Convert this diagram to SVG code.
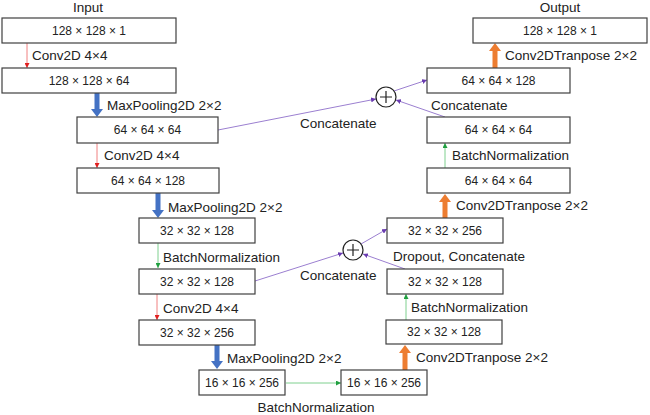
<svg xmlns="http://www.w3.org/2000/svg" width="650" height="415" viewBox="0 0 650 415">
<defs>
<style>
.box rect{fill:#fff;stroke:#404040;stroke-width:1.2}
.box text{font-family:"Liberation Sans",Arial,sans-serif;font-size:12px;fill:#222;text-anchor:middle}
.lbl{font-family:"Liberation Sans",Arial,sans-serif;font-size:13.5px;fill:#222}
.red{stroke:#f08080;stroke-width:1;fill:none}
.grn{stroke:#7fd08f;stroke-width:1;fill:none}
.pur{stroke:#9b7fd0;stroke-width:1;fill:none}
.blue{fill:#4472c4}
.orng{fill:#ed7d31}
</style>
<marker id="mr" viewBox="0 0 6 6" refX="6" refY="3" markerWidth="5" markerHeight="5" orient="auto" markerUnits="userSpaceOnUse"><path d="M0,0L6,3L0,6z" fill="#e02020"/></marker>
<marker id="mg" viewBox="0 0 6 6" refX="6" refY="3" markerWidth="5" markerHeight="5" orient="auto" markerUnits="userSpaceOnUse"><path d="M0,0L6,3L0,6z" fill="#20a040"/></marker>
<marker id="mp" viewBox="0 0 6 6" refX="6" refY="3" markerWidth="5" markerHeight="5" orient="auto" markerUnits="userSpaceOnUse"><path d="M0,0L6,3L0,6z" fill="#6a3cb0"/></marker>
</defs>
<rect width="650" height="415" fill="#fff"/>

<g id="connectors">
<line class="red" x1="27" y1="43" x2="27" y2="68" marker-end="url(#mr)"/>
<line class="red" x1="97" y1="143" x2="97" y2="168" marker-end="url(#mr)"/>
<line class="red" x1="157" y1="294" x2="157" y2="320" marker-end="url(#mr)"/>
<line class="grn" x1="158" y1="243" x2="158" y2="268" marker-end="url(#mg)"/>
<line class="grn" x1="286" y1="383" x2="341" y2="383" marker-end="url(#mg)"/>
<line class="grn" x1="406" y1="320" x2="406" y2="294" marker-end="url(#mg)"/>
<line class="grn" x1="445" y1="168" x2="445" y2="143" marker-end="url(#mg)"/>
<line class="pur" x1="218" y1="130" x2="376" y2="99" marker-end="url(#mp)"/>
<line class="pur" x1="445" y1="117" x2="396" y2="100" marker-end="url(#mp)"/>
<line class="pur" x1="394" y1="91" x2="427" y2="80" marker-end="url(#mp)"/>
<line class="pur" x1="255" y1="281" x2="343" y2="253" marker-end="url(#mp)"/>
<line class="pur" x1="405" y1="269" x2="363" y2="254" marker-end="url(#mp)"/>
<line class="pur" x1="361" y1="244" x2="387" y2="229" marker-end="url(#mp)"/>
<path class="blue" d="M94.5,93H99.5V109H103L97,117L91,109H94.5z"/>
<path class="blue" d="M155.5,193H160.5V210H164L158,218L152,210H155.5z"/>
<path class="blue" d="M214.5,345H219.5V361H223L217,369L211,361H214.5z"/>
<path class="orng" d="M402.5,370H407.5V353H411L405,345L399,353H402.5z"/>
<path class="orng" d="M442.5,218H447.5V202H451L445,194L439,202H442.5z"/>
<path class="orng" d="M492.5,68H497.5V51H501L495,43L489,51H492.5z"/>
</g>

<g id="plus1"><circle cx="386" cy="97" r="10" fill="#fff" stroke="#222" stroke-width="1.2"/><path d="M380,97H392M386,91V103" stroke="#222" stroke-width="1.2"/></g>
<g id="plus2"><circle cx="353" cy="250" r="10" fill="#fff" stroke="#222" stroke-width="1.2"/><path d="M347,250H359M353,244V256" stroke="#222" stroke-width="1.2"/></g>

<g id="b1" class="box"><rect x="2" y="18" width="174" height="25"/><text x="89" y="35">128 × 128 × 1</text></g>
<g id="b2" class="box"><rect x="2" y="68" width="174" height="25"/><text x="89" y="85">128 × 128 × 64</text></g>
<g id="b3" class="box"><rect x="77" y="117" width="141" height="26"/><text x="147.5" y="134">64 × 64 × 64</text></g>
<g id="b4" class="box"><rect x="77" y="168" width="142" height="25"/><text x="148" y="185">64 × 64 × 128</text></g>
<g id="b5" class="box"><rect x="139" y="218" width="116" height="25"/><text x="197" y="235">32 × 32 × 128</text></g>
<g id="b6" class="box"><rect x="139" y="269" width="116" height="25"/><text x="197" y="286">32 × 32 × 128</text></g>
<g id="b7" class="box"><rect x="139" y="320" width="116" height="25"/><text x="197" y="337">32 × 32 × 256</text></g>
<g id="b8" class="box"><rect x="199" y="370" width="86" height="25"/><text x="242" y="387">16 × 16 × 256</text></g>
<g id="b9" class="box"><rect x="341" y="370" width="86" height="25"/><text x="384" y="387">16 × 16 × 256</text></g>
<g id="b10" class="box"><rect x="386" y="320" width="116" height="24"/><text x="444" y="336">32 × 32 × 128</text></g>
<g id="b11" class="box"><rect x="387" y="269" width="116" height="25"/><text x="445" y="286">32 × 32 × 128</text></g>
<g id="b12" class="box"><rect x="387" y="218" width="116" height="25"/><text x="445" y="235">32 × 32 × 256</text></g>
<g id="b13" class="box"><rect x="427" y="168" width="143" height="25"/><text x="498.5" y="185">64 × 64 × 64</text></g>
<g id="b14" class="box"><rect x="427" y="117" width="143" height="26"/><text x="498.5" y="134">64 × 64 × 64</text></g>
<g id="b15" class="box"><rect x="427" y="68" width="143" height="25"/><text x="498.5" y="85">64 × 64 × 128</text></g>
<g id="b16" class="box"><rect x="473" y="18" width="174" height="25"/><text x="560" y="35">128 × 128 × 1</text></g>

<g id="labels">
<text class="lbl" x="88" y="12" text-anchor="middle">Input</text>
<text class="lbl" x="560" y="12" text-anchor="middle">Output</text>
<text class="lbl" x="32" y="60">Conv2D 4×4</text>
<text class="lbl" x="107" y="110">MaxPooling2D 2×2</text>
<text class="lbl" x="104" y="160">Conv2D 4×4</text>
<text class="lbl" x="168" y="212">MaxPooling2D 2×2</text>
<text class="lbl" x="163" y="262">BatchNormalization</text>
<text class="lbl" x="163" y="313">Conv2D 4×4</text>
<text class="lbl" x="227" y="363">MaxPooling2D 2×2</text>
<text class="lbl" x="316" y="412" text-anchor="middle">BatchNormalization</text>
<text class="lbl" x="416" y="362">Conv2DTranpose 2×2</text>
<text class="lbl" x="411" y="312">BatchNormalization</text>
<text class="lbl" x="393" y="261">Dropout, Concatenate</text>
<text class="lbl" x="300" y="280">Concatenate</text>
<text class="lbl" x="456" y="210">Conv2DTranpose 2×2</text>
<text class="lbl" x="452" y="160">BatchNormalization</text>
<text class="lbl" x="431" y="110">Concatenate</text>
<text class="lbl" x="300" y="128">Concatenate</text>
<text class="lbl" x="505" y="60">Conv2DTranpose 2×2</text>
</g>
</svg>
